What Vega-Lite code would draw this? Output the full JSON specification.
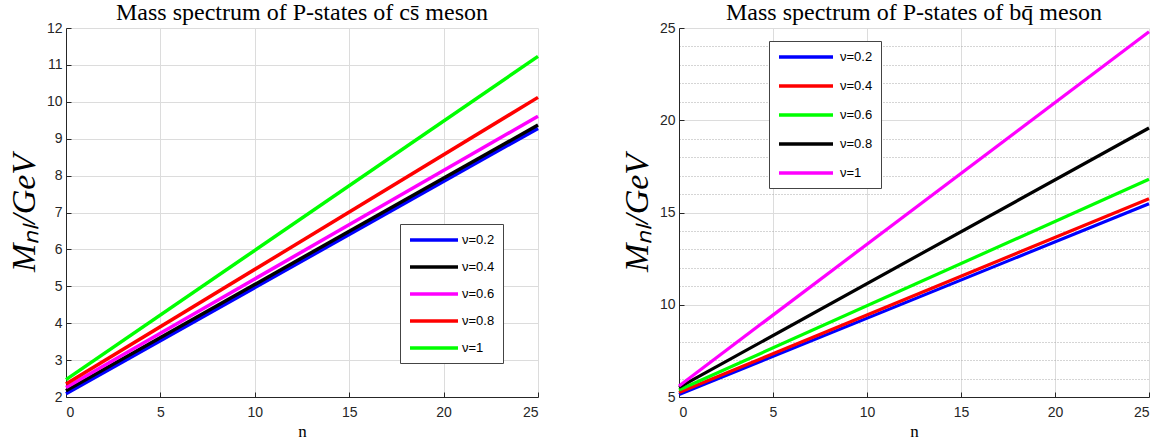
{
  "$schema": "https://vega.github.io/schema/vega-lite/v6.json",
  "background": "white",
  "padding": {"left": 7, "top": 1, "right": 6, "bottom": 0},
  "spacing": 75,
  "datasets": {
    "mass": [
      {"panel": "cs", "nu": "ν=0.2", "n": 0, "M": 2.09},
      {"panel": "cs", "nu": "ν=0.2", "n": 25, "M": 9.28},
      {"panel": "cs", "nu": "ν=0.4", "n": 0, "M": 2.17},
      {"panel": "cs", "nu": "ν=0.4", "n": 25, "M": 9.37},
      {"panel": "cs", "nu": "ν=0.6", "n": 0, "M": 2.26},
      {"panel": "cs", "nu": "ν=0.6", "n": 25, "M": 9.61},
      {"panel": "cs", "nu": "ν=0.8", "n": 0, "M": 2.35},
      {"panel": "cs", "nu": "ν=0.8", "n": 25, "M": 10.12},
      {"panel": "cs", "nu": "ν=1", "n": 0, "M": 2.47},
      {"panel": "cs", "nu": "ν=1", "n": 25, "M": 11.23},
      {"panel": "bq", "nu": "ν=0.2", "n": 0, "M": 5.13},
      {"panel": "bq", "nu": "ν=0.2", "n": 25, "M": 15.48},
      {"panel": "bq", "nu": "ν=0.4", "n": 0, "M": 5.24},
      {"panel": "bq", "nu": "ν=0.4", "n": 25, "M": 15.75},
      {"panel": "bq", "nu": "ν=0.6", "n": 0, "M": 5.38},
      {"panel": "bq", "nu": "ν=0.6", "n": 25, "M": 16.8},
      {"panel": "bq", "nu": "ν=0.8", "n": 0, "M": 5.52},
      {"panel": "bq", "nu": "ν=0.8", "n": 25, "M": 19.58},
      {"panel": "bq", "nu": "ν=1", "n": 0, "M": 5.6},
      {"panel": "bq", "nu": "ν=1", "n": 25, "M": 24.8}
    ]
  },
  "hconcat": [
    {
      "width": 472,
      "height": 369,
      "title": {"text": "Mass spectrum of P-states of cs̄ meson"},
      "data": {"name": "mass"},
      "transform": [{"filter": "datum.panel === 'cs'"}],
      "mark": {"type": "line", "strokeWidth": 3.5, "strokeCap": "butt"},
      "encoding": {
        "x": {
          "field": "n", "type": "quantitative",
          "scale": {"domain": [0, 25], "nice": false},
          "axis": {"values": [0, 5, 10, 15, 20, 25], "title": "n"}
        },
        "y": {
          "field": "M", "type": "quantitative",
          "scale": {"domain": [2, 12], "nice": false, "zero": false},
          "axis": {
            "title": "Mₙₗ/GeV",
            "tickCount": 100,
            "format": "d",
            "labelExpr": "abs(datum.value - round(datum.value)) < 1e-6 ? datum.label : ''",
            "gridDash": {"condition": {"test": "abs(datum.value - round(datum.value)) < 1e-6", "value": []}, "value": [1, 2]},
            "gridColor": {"condition": {"test": "abs(datum.value - round(datum.value)) < 1e-6", "value": "#dcdcdc"}, "value": "#ababab"},
            "tickOpacity": {"condition": {"test": "abs(datum.value - round(datum.value)) < 1e-6", "value": 1}, "value": 0}
          }
        },
        "color": {
          "field": "nu", "type": "nominal",
          "scale": {
            "domain": ["ν=0.2", "ν=0.4", "ν=0.6", "ν=0.8", "ν=1"],
            "range": ["#0000ff", "#000000", "#ff00ff", "#ff0000", "#00ff00"]
          },
          "legend": {"legendX": 334, "legendY": 196, "rowPadding": 12, "symbolType": "M-1,0L7,0", "labelOffset": 38}
        }
      }
    },
    {
      "width": 470,
      "height": 369,
      "title": {"text": "Mass spectrum of P-states of bq̄ meson"},
      "data": {"name": "mass"},
      "transform": [{"filter": "datum.panel === 'bq'"}],
      "mark": {"type": "line", "strokeWidth": 3.2, "strokeCap": "butt"},
      "encoding": {
        "x": {
          "field": "n", "type": "quantitative",
          "scale": {"domain": [0, 25], "nice": false},
          "axis": {"values": [0, 5, 10, 15, 20, 25], "title": "n"}
        },
        "y": {
          "field": "M", "type": "quantitative",
          "scale": {"domain": [5, 25], "nice": false, "zero": false},
          "axis": {
            "title": "Mₙₗ/GeV",
            "tickCount": 40,
            "format": "d",
            "labelExpr": "abs(datum.value / 5 - round(datum.value / 5)) < 1e-6 ? datum.label : ''",
            "gridDash": {"condition": {"test": "abs(datum.value / 5 - round(datum.value / 5)) < 1e-6", "value": []}, "value": [1, 2]},
            "gridColor": {"condition": {"test": "abs(datum.value / 5 - round(datum.value / 5)) < 1e-6", "value": "#dcdcdc"}, "value": "#ababab"},
            "tickOpacity": {"condition": {"test": "abs(datum.value / 5 - round(datum.value / 5)) < 1e-6", "value": 1}, "value": 0}
          }
        },
        "color": {
          "field": "nu", "type": "nominal",
          "scale": {
            "domain": ["ν=0.2", "ν=0.4", "ν=0.6", "ν=0.8", "ν=1"],
            "range": ["#0000ff", "#ff0000", "#00ff00", "#000000", "#ff00ff"]
          },
          "legend": {"legendX": 90, "legendY": 13, "rowPadding": 14, "symbolType": "M-1,0L8,0", "labelOffset": 47}
        }
      }
    }
  ],
  "resolve": {"scale": {"color": "independent"}},
  "config": {
    "view": {"stroke": null},
    "title": {"font": "Liberation Serif", "fontSize": 24, "fontWeight": "normal", "color": "#000000", "offset": -4, "frame": "group"},
    "axis": {
      "domainColor": "#262626",
      "domainWidth": 1,
      "tickColor": "#262626",
      "tickSize": -5,
      "labelPadding": 9,
      "labelColor": "#262626",
      "labelFont": "Liberation Sans",
      "labelFontSize": 14,
      "labelOverlap": false,
      "labelBound": false,
      "titleFont": "Liberation Serif",
      "titleFontWeight": "normal",
      "titleColor": "#000000",
      "gridColor": "#dcdcdc",
      "gridWidth": 1
    },
    "axisX": {"titleFontSize": 17, "titlePadding": 4, "labelPadding": 13},
    "axisY": {"titleFontSize": 34, "titleFontStyle": "italic", "titlePadding": 5},
    "legend": {
      "orient": "none",
      "title": null,
      "strokeColor": "#444444",
      "fillColor": "#ffffff",
      "padding": 8,
      "symbolSize": 144,
      "symbolStrokeWidth": 3.5,
      "labelFont": "Liberation Sans",
      "labelFontSize": 13,
      "labelColor": "#000000"
    }
  }
}
